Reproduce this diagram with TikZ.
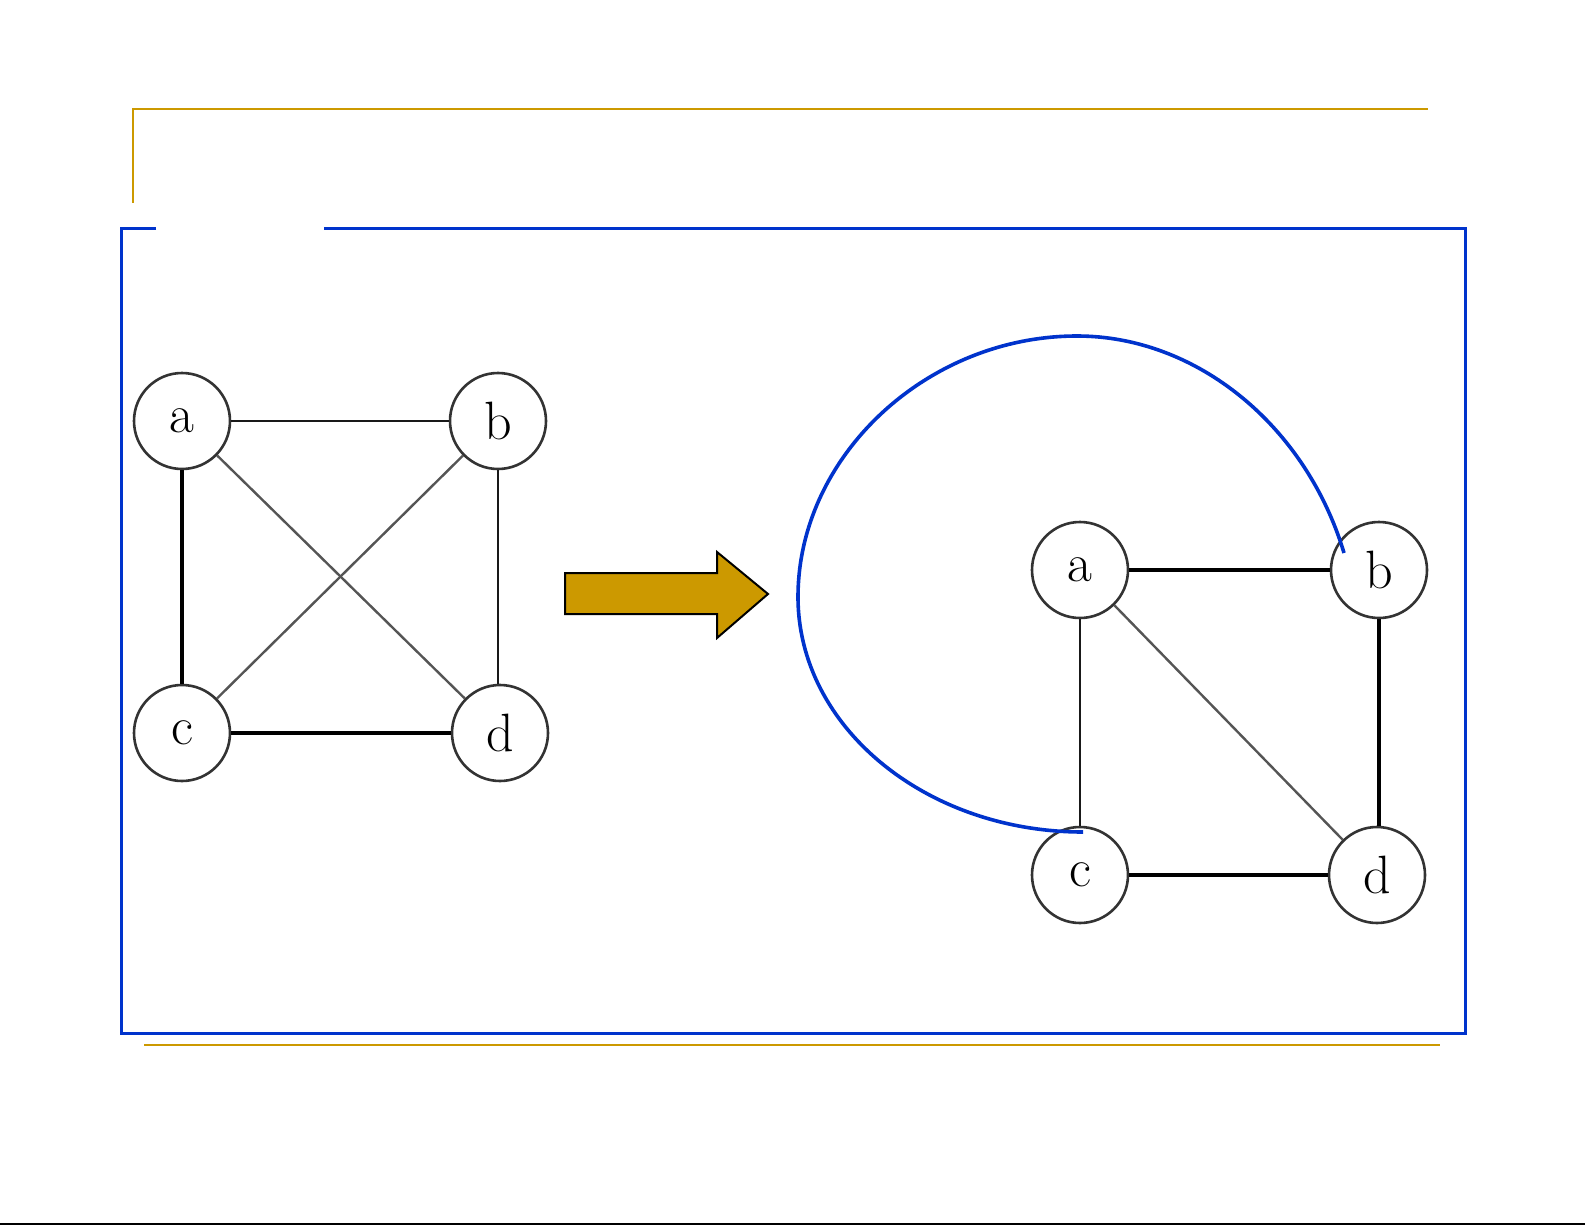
\documentclass[tikz,border=0pt]{standalone}
\usetikzlibrary{calc}
\definecolor{gold}{HTML}{CC9900}
\definecolor{frameblue}{HTML}{0033CC}
\definecolor{edgegray}{HTML}{555555}
\begin{document}
\begin{tikzpicture}[x=1pt,y=-1pt,
  vert/.style={circle,draw=black!80,line width=2.6pt,minimum size=96pt,inner sep=0pt,
    font=\fontsize{54}{58}\selectfont},
  thinedge/.style={draw=black!90,line width=2pt},
  thickedge/.style={draw=black,line width=3.6pt},
  diagedge/.style={draw=edgegray,line width=2.4pt},
  goldline/.style={draw=gold,line width=2.5pt},
  blueframe/.style={draw=frameblue,line width=3pt}]
\useasboundingbox (0,0) rectangle (1585,1225);
\fill[white] (0,0) rectangle (1585,1225);
% frame lines
\draw[goldline] (133,203) -- (133,109) -- (1428,109);
\draw[goldline] (144,1045) -- (1440,1045);
\draw[blueframe] (156,229) -- (121,229) -- (121,1033) -- (1465,1033) -- (1465,229) -- (324,229);
\draw[black,line width=2pt] (0,1224) -- (1585,1224);
% left graph
\node[vert] (la) at (182,421) {a};
\node[vert] (lb) at (498,421) {b};
\node[vert] (lc) at (182,733) {c};
\node[vert] (ld) at (500,733) {d};
\draw[thinedge] (la) -- (lb);
\draw[thickedge] (la) -- (lc);
\draw[thinedge] (lb.south) -- (lb.south |- ld.north);
\draw[thickedge] (lc) -- (ld);
\draw[diagedge] (la) -- (ld);
\draw[diagedge] (lb) -- (lc);
% arrow
\draw[fill=gold,draw=black,line width=2pt,line join=miter]
  (565,573) -- (717,573) -- (717,552) -- (768,594) -- (717,638) -- (717,614) -- (565,614) -- cycle;
% right graph
\node[vert] (ra) at (1080,570) {a};
\node[vert] (rb) at (1379,570) {b};
\node[vert] (rc) at (1080,875) {c};
\node[vert] (rd) at (1377,875) {d};
\draw[thickedge] (ra) -- (rb);
\draw[thinedge] (ra) -- (rc);
\draw[thickedge] (rb.south) -- (rb.south |- rd.north);
\draw[thickedge] (rc) -- (rd);
\draw[diagedge] (ra) -- (rd);
% blue curve from c to b
\coordinate (cend) at (1083,832);
\coordinate (bend) at (1344,553);
\draw[draw=frameblue,line width=3.6pt]
  (cend) .. controls (926,832) and (798,727) .. (798,597)
  .. controls (798,456) and (927,336) .. (1077,336)
  .. controls (1197,336) and (1306,426) .. (bend);
\end{tikzpicture}
\end{document}
